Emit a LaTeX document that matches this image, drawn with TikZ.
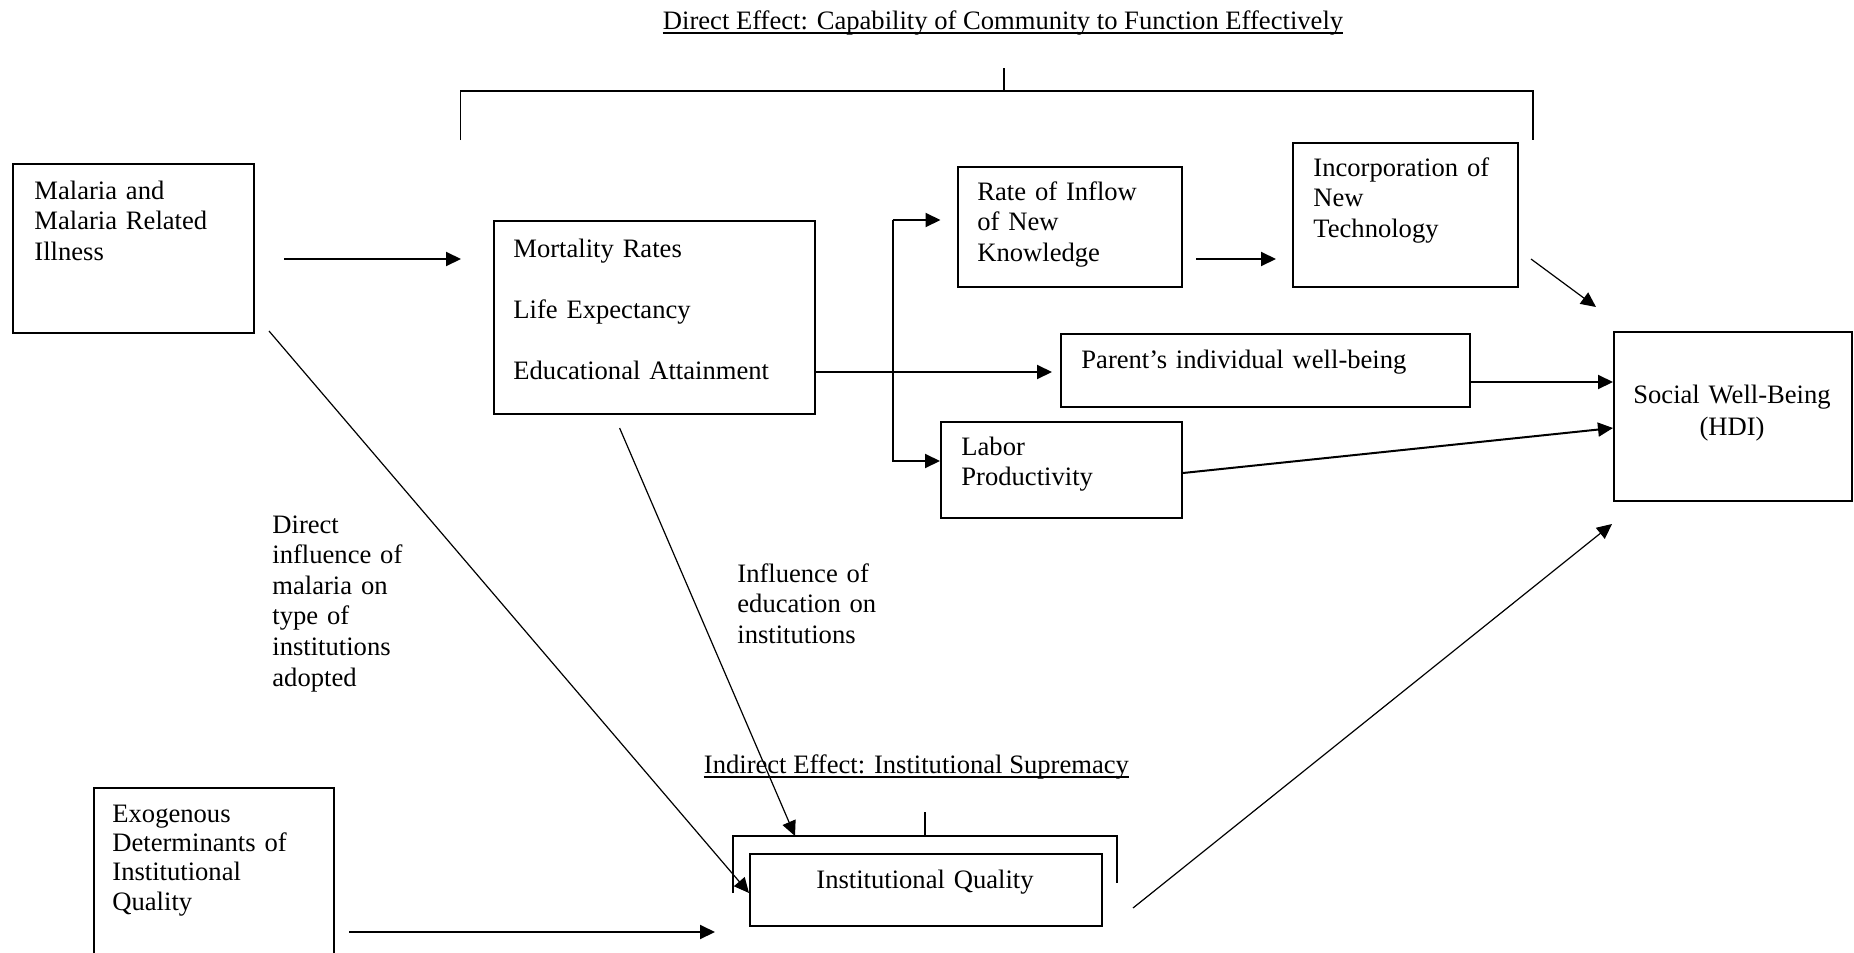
\documentclass[tikz,border=0pt]{standalone}
\usepackage{fontspec}
\setmainfont{Liberation Serif}
\usetikzlibrary{arrows.meta,calc}
\begin{document}
\begin{tikzpicture}[x=0.5pt,y=-0.5pt,
  box/.style={draw, line width=1pt, inner sep=0pt, anchor=north west},
  txt/.style={inner sep=0pt, anchor=base west, align=left, text width=150pt,
              font=\fontsize{13.3pt}{15.3pt}\selectfont},
  ttl/.style={inner sep=0pt, font=\fontsize{13.3pt}{15.3pt}\selectfont},
  ul/.style={line width=0.9pt},
  brk/.style={line width=0.8pt},
  arr/.style={line width=1pt, -{Triangle[length=7.5pt,width=7pt]}},
  thinarr/.style={line width=0.6pt, -{Triangle[length=7.5pt,width=7pt]}}]
\useasboundingbox (0,0) rectangle (1854,953);
\clip (0,0) rectangle (1854,953);

% titles
\node[ttl, anchor=base] (t1) at (1003,29) {Direct Effect: Capability of Community to Function Effectively};
\draw[ul] ([yshift=-2pt]t1.base west) -- ([yshift=-2pt]t1.base east);
\node[ttl, anchor=base west] (t2) at (703.5,773) {Indirect Effect: Institutional Supremacy};
\draw[ul] ([yshift=-2pt]t2.base west) -- ([yshift=-2pt]t2.base east);

% top bracket
\coordinate (bl) at (460.5,140);
\coordinate (br) at (1533,140);
\coordinate (bt) at (1004,68);
\draw[brk] (bl) -- (460.5,91) -- (1533,91) -- (br);
\draw[brk] (bt) -- (1004,91);

% boxes
\node[box, minimum width=120.5pt, minimum height=84.5pt] (mal) at (12,163) {};
\node[box, minimum width=160.5pt, minimum height=96.5pt] (mort) at (492.5,220) {};
\node[box, minimum width=112.25pt, minimum height=60pt] (rate) at (956.5,166) {};
\node[box, minimum width=112.5pt, minimum height=72pt] (inc) at (1292,142) {};
\node[box, minimum width=204.25pt, minimum height=36.5pt] (par) at (1060,333) {};
\node[box, minimum width=120.5pt, minimum height=48pt] (lab) at (940,421) {};
\node[box, minimum width=119pt, minimum height=84.5pt] (soc) at (1613,331) {};
\node[box, minimum width=120pt, minimum height=100pt] (exo) at (93,787) {};
\node[box, minimum width=176pt, minimum height=36pt] (inst) at (749,853) {};

% institutional bracket
\coordinate (il) at (733,893);
\coordinate (ir) at (1117,883);
\coordinate (it) at (925,812);
\draw[brk] (il) -- (733,836) -- (1117,836) -- (ir);
\draw[brk] (it) -- (925,836);

% texts
\node[txt] at (34,199) {Malaria and\\Malaria Related\\Illness};
\node[txt, font=\fontsize{13.3pt}{30.5pt}\selectfont] at (513,257) {Mortality Rates\\Life Expectancy\\Educational Attainment};
\node[txt] at (977,200) {Rate of Inflow\\of New\\Knowledge};
\node[txt] at (1313,176) {Incorporation of\\New\\Technology};
\node[txt, text width=200pt] at (1081,368) {Parent’s individual well-being};
\node[txt] at (961,455) {Labor\\Productivity};
\node[txt, anchor=base, align=center, text width=115pt, font=\fontsize{13.3pt}{16pt}\selectfont] at (1732,403) {Social Well-Being\\(HDI)};
\node[txt, font=\fontsize{13.3pt}{14.7pt}\selectfont] at (112,822) {Exogenous\\Determinants of\\Institutional\\Quality};
\node[txt, anchor=base, align=center, text width=170pt] at (925,888) {Institutional Quality};
\node[txt] at (272,533) {Direct\\influence of\\malaria on\\type of\\institutions\\adopted};
\node[txt] at (737,582) {Influence of\\education on\\institutions};

% connectors
\coordinate (a1) at (284,259);
\coordinate (a2) at (461,259);
\draw[arr] (a1) -- (a2);

\coordinate (v1) at (892.7,220);
\coordinate (v2) at (892.7,461);
\draw[arr] (mort.east |- 0,372) -- (1052,372);
\draw[arr, shorten >=8pt] (v1) -- (rate.west |- v1);
\draw[arr] (v1) -- (v2) -- (lab.west |- v2);

\coordinate (b1) at (1196,259);
\coordinate (b2) at (1276,259);
\draw[arr] (b1) -- (b2);

\coordinate (c1) at (1531,259);
\coordinate (c2) at (1596,307);
\draw[thinarr] (c1) -- (c2);

\draw[arr] (par.east |- 0,382) -- (soc.west |- 0,382);
\draw[arr] (lab.east |- 0,473) -- (soc.west |- 0,428);

\coordinate (d1) at (269,331);
\draw[thinarr] (d1) -- (inst.west |- 0,893);
\coordinate (e1) at (619.6,428);
\coordinate (e2) at (795,836);
\draw[thinarr] (e1) -- (e2);

\coordinate (f1) at (349,932);
\coordinate (f2) at (715,932);
\draw[arr] (f1) -- (f2);

\coordinate (g1) at (1133,908);
\coordinate (g2) at (1612,524);
\draw[thinarr] (g1) -- (g2);
\end{tikzpicture}
\end{document}
